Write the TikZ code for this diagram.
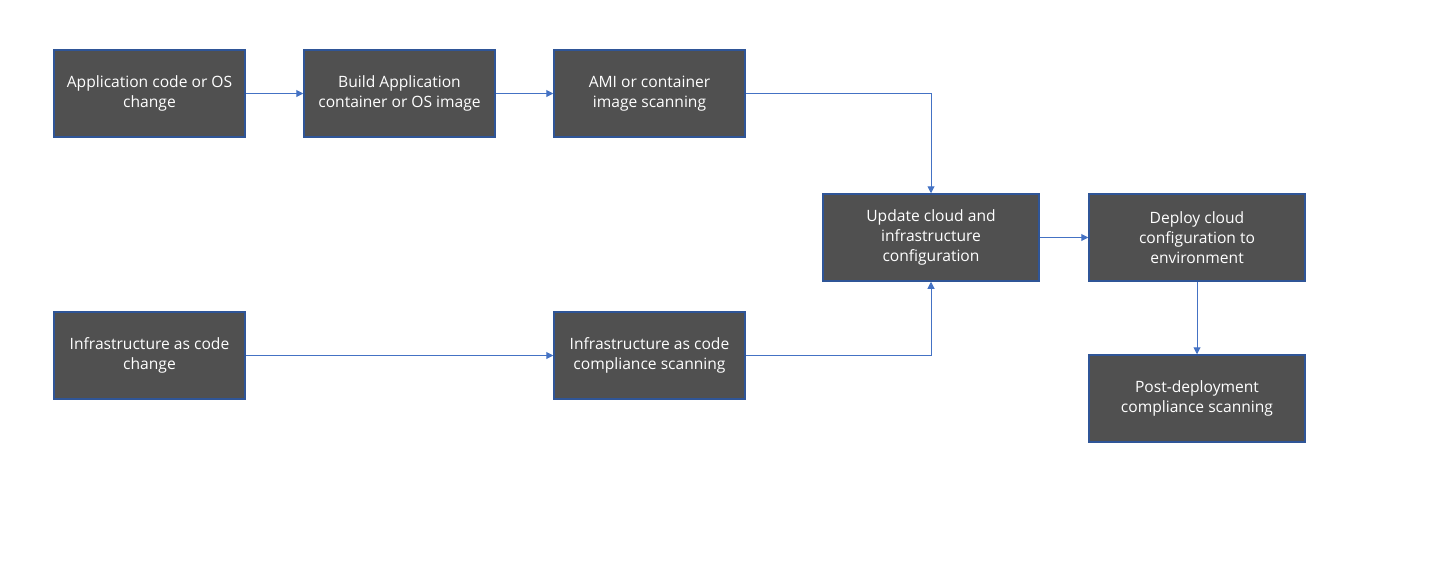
\documentclass[tikz,border=0pt]{standalone}
\usepackage{fontspec}
\setmainfont{Open Sans}
\usetikzlibrary{arrows.meta}
\definecolor{boxfill}{HTML}{505050}
\definecolor{boxline}{HTML}{2F5597}
\definecolor{arrowc}{HTML}{4472C4}
\begin{document}
\begin{tikzpicture}[x=1pt,y=-1pt,
  box/.style={draw=boxline,line width=1.5pt,fill=boxfill,text=white,align=center,
    font=\fontsize{15.6}{20}\selectfont,minimum height=87pt,inner sep=0pt},
  wide/.style={box,minimum width=191pt},
  wider/.style={box,minimum width=216pt},
  conn/.style={draw=arrowc,line width=1pt,-{Triangle[length=7pt,width=7pt]}}]
\useasboundingbox (0,0) rectangle (1433,571);
\node[wide]  (A) at (149.5,93.5) {Application code or OS\\change};
\node[wide]  (B) at (399.5,93.5) {Build Application\\container or OS image};
\node[wide]  (C) at (649.5,93.5) {AMI or container\\image scanning};
\node[wider] (D) at (931,237.5) {Update cloud and\\infrastructure\\configuration};
\node[wider] (E) at (1197,237.5) {Deploy cloud\\configuration to\\environment};
\node[wider] (F) at (1197,398.5) {Post-deployment\\compliance scanning};
\node[wide]  (G) at (149.5,355.5) {Infrastructure as code\\change};
\node[wide]  (H) at (649.5,355.5) {Infrastructure as code\\compliance scanning};
\draw[conn] (A) -- (B);
\draw[conn] (B) -- (C);
\draw[conn] (C.east) -| (D.north);
\draw[conn] (G) -- (H);
\draw[conn] (H.east) -| (D.south);
\draw[conn] (D) -- (E);
\draw[conn] (E) -- (F);
\end{tikzpicture}
\end{document}
